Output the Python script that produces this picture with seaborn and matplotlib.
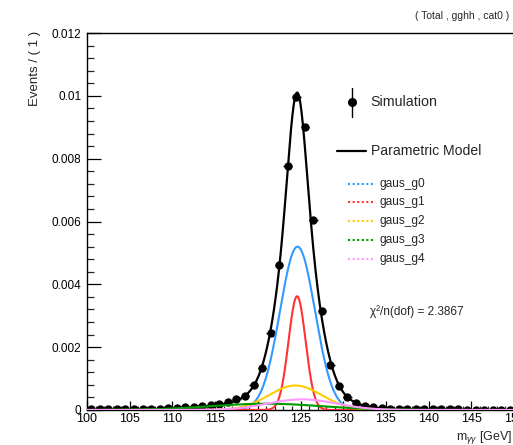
import numpy as np
import pandas as pd
import matplotlib
matplotlib.use("Agg")
import matplotlib.pyplot as plt
from matplotlib.lines import Line2D
from matplotlib.ticker import MultipleLocator, FuncFormatter
import seaborn as sns

# ---- binned simulation (bin width 1 GeV, centres at x.5) ----
bin_centres = np.arange(100.5, 150.0, 1.0)
sim_weights = [
    0.00002, 0.00002, 0.00002, 0.00002, 0.00003, 0.00003, 0.00003, 0.00004, 0.00004, 0.00005,
    0.00006, 0.00008, 0.00010, 0.00013, 0.00016, 0.00020, 0.00026, 0.00035, 0.00045, 0.00080,
    0.00134, 0.00245, 0.00461, 0.00777, 0.00996, 0.00902, 0.00605, 0.00315, 0.00143, 0.00077,
    0.00042, 0.00022, 0.00014, 0.00009, 0.00006, 0.00004, 0.00003, 0.00003, 0.00003, 0.00002,
    0.00002, 0.00002, 0.00002, 0.00002, 0.00001, 0.00001, 0.00001, 0.00001, 0.00001, 0.00001,
]
sim_errors = [0.00006] * len(sim_weights)

# ---- gaussian components of the parametric model ----
comp_names = ["gaus_g0", "gaus_g1", "gaus_g2", "gaus_g3", "gaus_g4"]
comp_means = [124.65, 124.6, 124.4, 121.0, 125.2]
comp_sigmas = [2.05, 1.0, 3.1, 6.5, 4.0]
comp_peaks = [0.00520, 0.00362, 0.00078, 0.00020, 0.00034]
comp_colors = ["#3399ff", "#ff3333", "#ffcc00", "#009900", "#ff99ff"]

x_range = (100, 150)
y_range = (0, 0.012)

sns.set_theme(style="ticks")
plt.rcParams["font.family"] = ["Liberation Sans", "DejaVu Sans"]
plt.rcParams["mathtext.fontset"] = "custom"
plt.rcParams["mathtext.rm"] = "Liberation Sans"
plt.rcParams["mathtext.it"] = "Liberation Sans:italic"

W, H = 513, 445
fig = plt.figure(figsize=(W / 100, H / 100), dpi=100)
ax = fig.add_axes([87 / W, 1 - 410 / H, (514 - 87) / W, (410 - 33) / H])


def fx(px):
    return px / W


def fy(py):
    return 1 - py / H


# model curves
mgrid = np.linspace(x_range[0], x_range[1], 1001)
frames = []
for name, mu, sg, pk in zip(comp_names, comp_means, comp_sigmas, comp_peaks):
    frames.append(pd.DataFrame({"x": mgrid, "y": pk * np.exp(-0.5 * ((mgrid - mu) / sg) ** 2),
                                "comp": name}))
comps = pd.concat(frames, ignore_index=True)
total = comps.groupby("x", as_index=False)["y"].sum()

sim = pd.DataFrame({"x": bin_centres, "y": sim_weights, "err": sim_errors})
ax.errorbar(sim["x"], sim["y"], yerr=sim["err"], xerr=0.5, fmt="o", color="black",
            markersize=5, elinewidth=1.0, capsize=0, zorder=2)

sns.lineplot(data=total, x="x", y="y", color="black", lw=1.6, ax=ax, zorder=3)
sns.lineplot(data=comps, x="x", y="y", hue="comp", palette=dict(zip(comp_names, comp_colors)),
             lw=1.5, ax=ax, legend=False, zorder=4)

ax.set_xlim(*x_range)
ax.set_ylim(*y_range)
ax.set_xlabel("")
ax.set_ylabel("")

ax.xaxis.set_major_locator(MultipleLocator(5))
ax.xaxis.set_minor_locator(MultipleLocator(1))
ax.yaxis.set_major_locator(MultipleLocator(0.002))
ax.yaxis.set_minor_locator(MultipleLocator(0.0004))
ax.yaxis.set_major_formatter(FuncFormatter(lambda v, p: "0" if abs(v) < 1e-12 else f"{v:g}"))
ax.tick_params(axis="y", which="major", direction="in", length=10, width=0.9, labelsize=8.5,
               pad=4, colors="black")
ax.tick_params(axis="y", which="minor", direction="in", length=5, width=0.9)
ax.tick_params(axis="x", which="major", direction="in", length=6.5, width=0.9, labelsize=9,
               pad=2, colors="black")
ax.tick_params(axis="x", which="minor", direction="in", length=3.2, width=0.9)
for s in ax.spines.values():
    s.set_linewidth(1.0)
    s.set_color("black")

# axis titles and header
fig.text(fx(35), fy(31), "Events / ( 1 )", rotation=90, ha="center", va="top", fontsize=9.5)
fig.text(fx(512), fy(437), r"m$_{\gamma\gamma}$ [GeV]", ha="right", va="center", fontsize=9)
fig.text(fx(509), fy(16), "( Total , gghh , cat0 )", ha="right", va="center", fontsize=7.5)

# legend entries
fig.add_artist(Line2D([fx(352), fx(352)], [fy(88), fy(117)], color="black", lw=1.0))
fig.add_artist(Line2D([fx(352)], [fy(102)], marker="o", color="black", markersize=5.5))
fig.text(fx(370), fy(102), "Simulation", ha="left", va="center", fontsize=10.3)
fig.add_artist(Line2D([fx(337), fx(366)], [fy(151), fy(151)], color="black", lw=1.6))
fig.text(fx(371), fy(151), "Parametric Model", ha="left", va="center", fontsize=10.1)
for i, (name, col) in enumerate(zip(comp_names, comp_colors)):
    yy = 183.5 + i * 18.8
    fig.add_artist(Line2D([fx(348), fx(375)], [fy(yy), fy(yy)], color=col, lw=1.5,
                          linestyle=(0, (1, 1.2))))
    fig.text(fx(380), fy(yy), name, ha="left", va="center", fontsize=8.6)

fig.text(fx(370), fy(311.5), "χ²/n(dof) = 2.3867", ha="left", va="center", fontsize=8.5)

fig.savefig("out.png", dpi=100)
